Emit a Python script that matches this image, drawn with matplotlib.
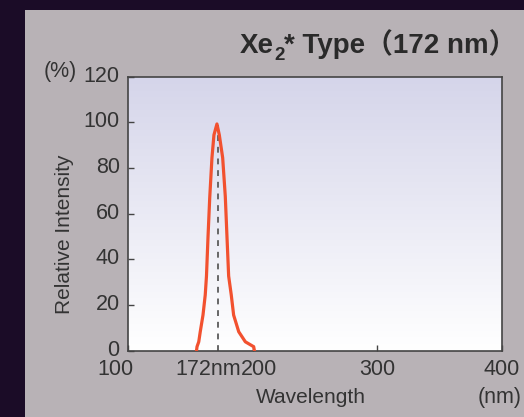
import numpy as np
import matplotlib
matplotlib.use("Agg")
import matplotlib.pyplot as plt
import matplotlib.transforms as mtransforms
from matplotlib.patches import Rectangle
from matplotlib.colors import LinearSegmentedColormap

# ---- data ----
wavelength = [155.0, 155.4, 156.8, 158.0, 160.2, 162.0, 163.0, 164.2, 165.6, 167.4, 169.0, 171.4,
              173.3, 176.0, 178.1, 179.5, 180.8, 182.9, 184.8, 188.9, 194.2, 200.9, 201.5]
intensity = [0, 1.75, 3.9, 8.3, 15.6, 24.4, 32.7, 49.4, 66.9, 84.5, 94.5, 99.3,
             94.5, 84.5, 67.6, 49.4, 32.7, 24.4, 15.6, 8.3, 3.9, 1.75, 0]
peak_nm = 172
peak_level = 99
x_ticks = [100, 200, 300, 400]
x_labels = ["100", "172nm", "200", "300", "400"]
x_label_pos = [100, 172, 200, 300, 400]
y_ticks = [0, 20, 40, 60, 80, 100, 120]

W, H = 524, 417
plt.rcParams["font.family"] = ["Liberation Sans", "Noto Sans CJK JP", "DejaVu Sans"]
txt = "#333333"

fig = plt.figure(figsize=(W / 100, H / 100), dpi=100)
fig.patch.set_facecolor("#1b0c27")
fig.add_artist(Rectangle((25 / W, 0), 1 - 25 / W, 1 - 10 / H, transform=fig.transFigure,
                         facecolor="#b8b2b6", edgecolor="none", zorder=0))

ax = fig.add_axes([128 / W, (H - 350.7) / H, 373.7 / W, 274 / H])
ax.set_facecolor("white")
cmap = LinearSegmentedColormap.from_list("g", ["#d5d5ea", "#ffffff"])
ax.imshow(np.linspace(0, 1, 256).reshape(-1, 1), cmap=cmap, extent=[100, 400, 0, 120],
          aspect="auto", zorder=0, interpolation="bilinear")
ax.set_xlim(100, 400)
ax.set_ylim(0, 120)

ax.vlines(peak_nm, 0, peak_level, colors="#666666", linestyles=(0, (3, 3)), linewidth=1.4, zorder=2)
ax.plot(wavelength, intensity, color="#f2512f", linewidth=2.3, solid_joinstyle="round",
        solid_capstyle="round", zorder=3)

for s in ax.spines.values():
    s.set_color("#444444")
    s.set_linewidth(1.2)
ax.set_xticks(x_ticks)
ax.set_yticks(y_ticks)
ax.tick_params(axis="both", direction="in", length=4, width=1, color="#444444")
ax.tick_params(axis="x", labelbottom=False)
ax.tick_params(axis="y", labelsize=15.5, labelcolor=txt, pad=6)
up = mtransforms.ScaledTranslation(0, 3 / 100, fig.dpi_scale_trans)
for lab in ax.get_yticklabels():
    lab.set_transform(lab.get_transform() + up)

trans = mtransforms.blended_transform_factory(ax.transData, ax.transAxes)
dx_px = {"100": -13, "172nm": -9.4, "200": 6.7, "300": 0, "400": 0}
for v, lab in zip(x_label_pos, x_labels):
    off = mtransforms.ScaledTranslation(dx_px[lab] / 100, -8 / 100, fig.dpi_scale_trans)
    ax.text(v, 0, lab, transform=trans + off, ha="center", va="top", fontsize=15.5, color=txt)

fig.text(500 / W, 1 - 397.5 / H, "(nm)", ha="center", va="center", fontsize=15.5, color=txt)
fig.text(311 / W, 1 - 397.5 / H, "Wavelength", ha="center", va="center", fontsize=15, color=txt)
fig.text(60 / W, 1 - 71 / H, "(%)", ha="center", va="center", fontsize=15.5, color=txt)
fig.text(65 / W, 1 - 234 / H, "Relative Intensity", rotation=90, ha="center", va="center",
         fontsize=15, color=txt)

# title built from pieces (subscript 2)
r = fig.canvas.get_renderer()
base = H - 53.3
tc = "#2a2a2a"
t1 = fig.text(239.5 / W, base / H, "Xe", fontsize=20, fontweight="bold", ha="left",
              va="baseline", color=tc)
b1 = t1.get_window_extent(r)
t2 = fig.text((b1.x1 + 0.5) / W, (base - 6.7) / H, "2", fontsize=13.5, fontweight="bold",
              ha="left", va="baseline", color=tc)
b2 = t2.get_window_extent(r)
fig.text(b2.x1 / W, base / H, "* Type（172 nm）", fontsize=20, fontweight="bold", ha="left",
         va="baseline", color=tc)

fig.savefig("out.png", dpi=100)
